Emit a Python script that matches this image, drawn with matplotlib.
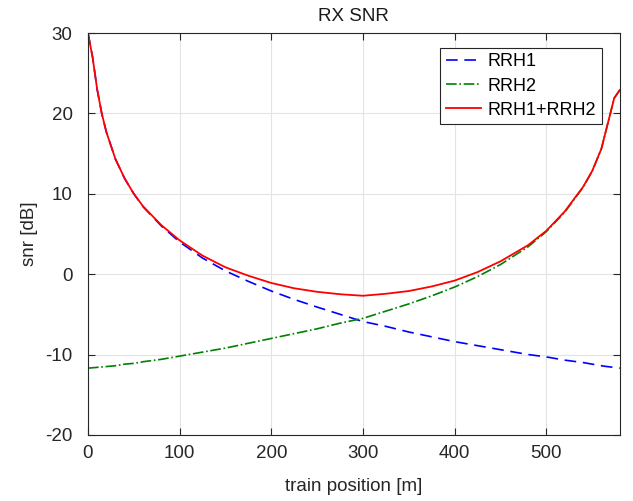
import matplotlib.pyplot as plt
import numpy as np

plt.rcParams['font.family'] = ['Liberation Sans', 'DejaVu Sans']
plt.rcParams['axes.unicode_minus'] = False

# train position [m]
pos = [0, 5, 10, 15, 20, 30, 40, 50, 60, 80, 100, 125, 150, 175, 200, 225,
       250, 275, 300, 325, 350, 375, 400, 425, 450, 480, 500, 520, 540, 550,
       560, 566, 574, 580]

# snr [dB]
rrh1 = [30.0, 27.0, 23.0, 20.0, 17.7, 14.3, 11.9, 10.0, 8.4, 6.0, 4.0, 2.0,
        0.4, -0.9, -2.1, -3.15, -4.1, -5.0, -5.9, -6.5, -7.2, -7.8, -8.4,
        -8.9, -9.4, -10.0, -10.3, -10.7, -11.0, -11.2, -11.4, -11.5, -11.6,
        -11.7]
rrh2 = [-11.7, -11.65, -11.6, -11.55, -11.5, -11.4, -11.2, -11.1, -10.9,
        -10.6, -10.2, -9.7, -9.2, -8.6, -8.0, -7.4, -6.8, -6.1, -5.5, -4.6,
        -3.7, -2.7, -1.6, -0.3, 1.2, 3.4, 5.3, 7.7, 10.8, 12.8, 15.6, 18.3,
        21.9, 22.9]
both = [30.0, 27.0, 23.0, 20.0, 17.7, 14.3, 11.9, 10.0, 8.45, 6.1, 4.2,
        2.3, 0.85, -0.2, -1.1, -1.76, -2.2, -2.5, -2.69, -2.44, -2.1, -1.53,
        -0.8, 0.26, 1.6, 3.6, 5.4, 7.8, 10.85, 12.85, 15.6, 18.3, 21.9, 22.9]

fig = plt.figure(figsize=(6.33, 5.01), dpi=100)
ax = fig.add_axes([0.139, 0.132, 0.840, 0.802])

ax.plot(pos, rrh1, color='#0000ff', linestyle=(0, (7, 4)), linewidth=1.2, label='RRH1')
ax.plot(pos, rrh2, color='#008000', linestyle='-.', linewidth=1.2, label='RRH2')
ax.plot(pos, both, color='#ff0000', linestyle='-', linewidth=1.3, label='RRH1+RRH2')

ax.set_xlim(0, 580)
ax.set_ylim(-20, 30)
ax.set_xticks(np.arange(0, 501, 100))
ax.set_yticks(np.arange(-20, 31, 10))

ax.grid(True, color='#e3e3e3', linewidth=0.8)
ax.set_axisbelow(True)
ax.tick_params(direction='in', top=True, right=True, length=5,
               labelsize=13.5, color='#262626', labelcolor='#262626')
ax.tick_params(axis='x', pad=7)
ax.tick_params(axis='y', pad=11)
for s in ax.spines.values():
    s.set_color('#262626')
    s.set_linewidth(0.8)

ax.set_title('RX SNR', fontsize=13.5, color='#1a1a1a', pad=9)
ax.set_xlabel('train position [m]', fontsize=13.5, color='#262626', labelpad=12)
ax.set_ylabel('snr [dB]', fontsize=13.5, color='#262626', labelpad=5)

leg = ax.legend(loc='upper right', bbox_to_anchor=(0.966, 0.963), fontsize=13,
                fancybox=False, framealpha=1, edgecolor='#262626',
                handlelength=1.97, borderpad=0.3, labelspacing=0.4,
                handletextpad=0.35, borderaxespad=0)
leg.get_frame().set_linewidth(0.8)

fig.savefig('out.png', dpi=100)
